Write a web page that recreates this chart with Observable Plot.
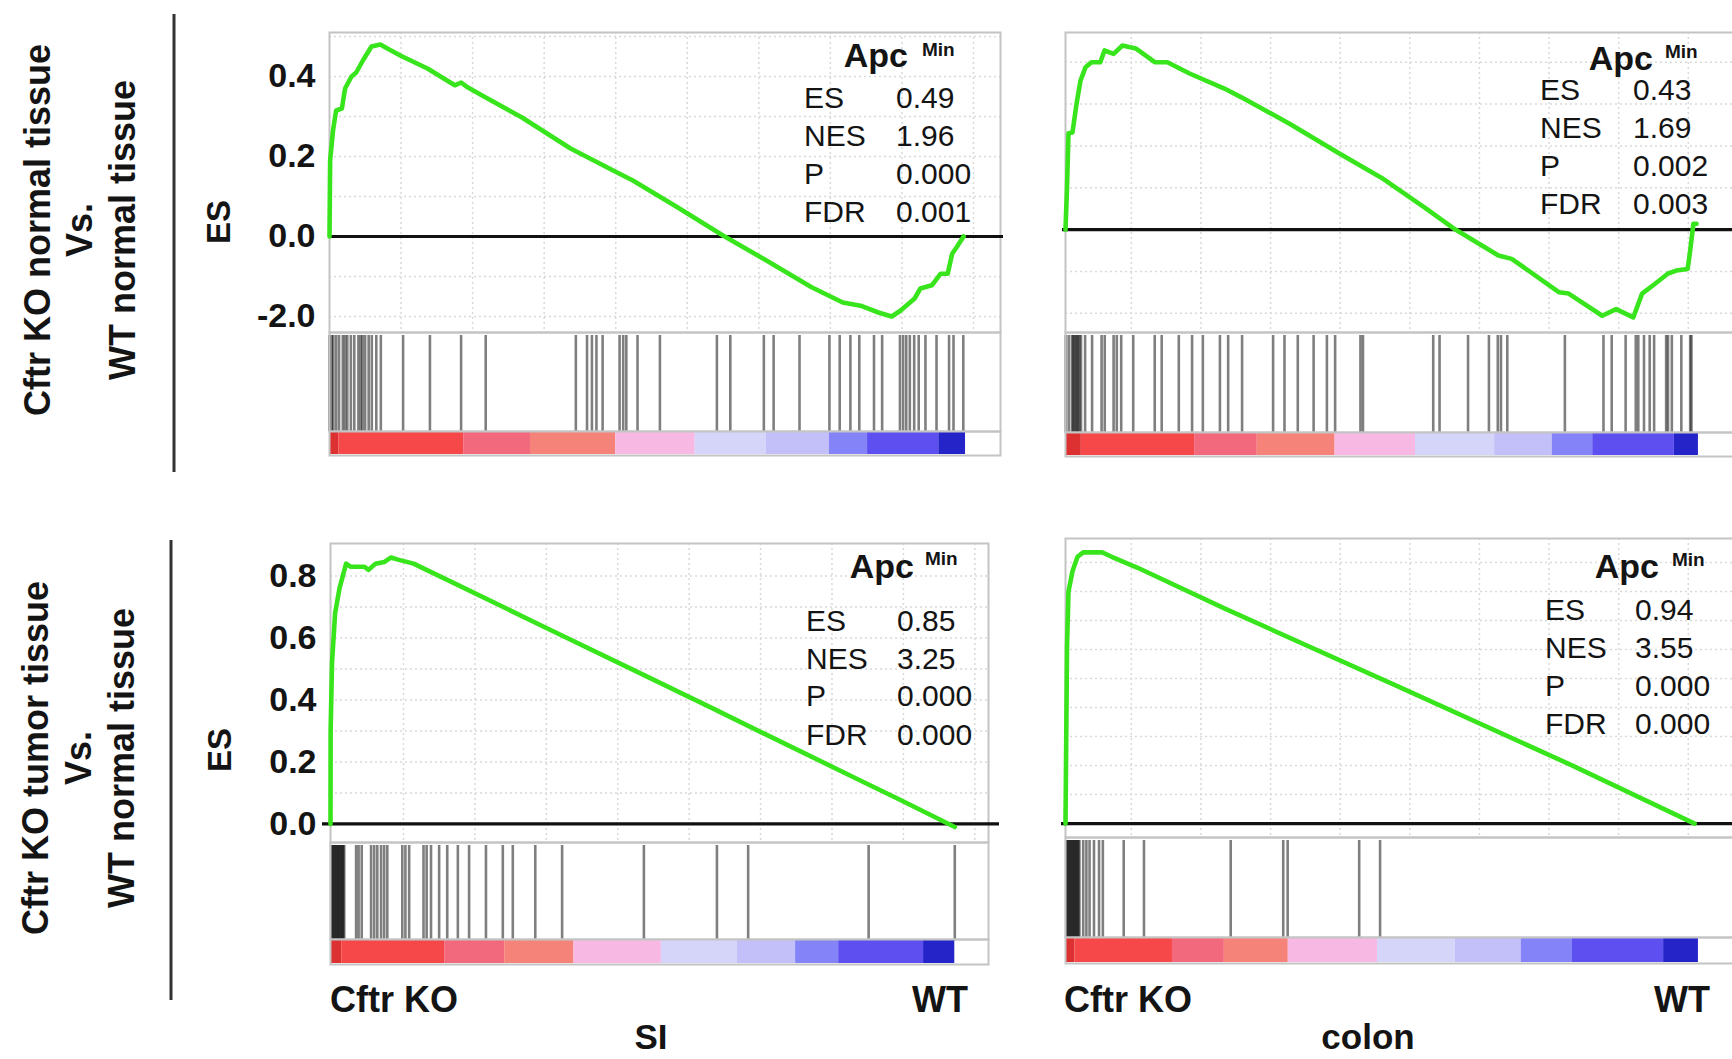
<!DOCTYPE html>
<html><head><meta charset="utf-8">
<script src="https://cdn.jsdelivr.net/npm/d3@7"></script>
<script src="https://cdn.jsdelivr.net/npm/@observablehq/plot@0.6"></script>
<style>
html,body{margin:0;padding:0;background:#fff;overflow:hidden;}
#root{position:relative;width:1732px;height:1059px;overflow:hidden;background:#fff;font-family:"Liberation Sans",Arial,sans-serif;}
</style></head><body><div id="root"></div>
<script>
// ---------- DATA (rank position in % of the ranked gene list, running ES) ----------
const curveTL = [[0,0],[0.1,0.19],[0.55,0.265],[1.04,0.315],[1.95,0.32],[2.45,0.37],[3.46,0.40],[4.2,0.41],[5.25,0.44],[6.6,0.475],[8.0,0.48],[9.1,0.47],[11.2,0.452],[15.4,0.42],[19.7,0.378],[20.7,0.385],[21.7,0.373],[24.5,0.348],[30.2,0.298],[37.9,0.22],[45.6,0.157],[47.7,0.14],[54.7,0.073],[61.8,0.003],[68.7,-0.06],[75.8,-0.127],[80.7,-0.165],[83.5,-0.173],[86.3,-0.19],[88.4,-0.20],[89.8,-0.185],[92.0,-0.155],[92.9,-0.13],[94.7,-0.122],[96.1,-0.093],[97.2,-0.093],[97.9,-0.043],[98.6,-0.027],[99.7,0]];
const curveTR = [[0,0],[0.24,0.10],[0.47,0.23],[1.1,0.232],[1.74,0.30],[2.37,0.356],[3.16,0.388],[4.1,0.40],[5.5,0.40],[6.16,0.428],[7.6,0.42],[9.0,0.44],[11.1,0.433],[14.1,0.40],[16.1,0.40],[19.6,0.373],[25.1,0.337],[27.8,0.316],[35.4,0.253],[43.0,0.184],[49.9,0.124],[56.7,0.053],[61.6,0],[68.4,-0.062],[70.5,-0.07],[78.0,-0.15],[79.5,-0.153],[84.8,-0.206],[87.0,-0.19],[89.7,-0.21],[91.1,-0.153],[93.1,-0.13],[95.2,-0.105],[96.5,-0.098],[98.3,-0.094],[98.7,-0.05],[99.2,0.014],[99.7,0.014]];
const curveBL = [[0,0],[0.02,0.30],[0.24,0.52],[0.74,0.68],[1.44,0.76],[2.5,0.84],[3.2,0.83],[5.4,0.83],[6.1,0.82],[7.2,0.84],[8.6,0.845],[9.7,0.86],[10.8,0.853],[13.3,0.84],[19.7,0.778],[34.0,0.638],[48.4,0.498],[61.3,0.372],[69.8,0.288],[85.6,0.133],[91.3,0.077],[100,-0.01]];
const curveBR = [[0,0],[0.24,0.61],[0.47,0.80],[1.1,0.87],[1.9,0.92],[2.8,0.935],[5.8,0.935],[7.3,0.92],[11.4,0.882],[25.1,0.742],[52.6,0.472],[80.1,0.2],[99.4,0]];

const hitsTL = [0.0,0.35,0.6,1.04,1.5,2.09,2.45,2.8,3.36,3.9,4.54,4.91,5.2,5.6,6.16,6.65,7.36,8.07,11.57,15.79,20.69,24.56,38.73,40.49,41.26,41.97,42.94,45.61,46.18,46.67,48.43,51.95,60.91,63.02,68.29,69.83,73.9,78.6,80.22,81.9,83.3,85.61,86.89,89.69,90.19,90.68,91.24,91.93,92.64,93.7,95.44,97.41,98.11,99.65];
const hitsTR = [0.03,0.5,1.0,1.2,1.4,1.6,1.8,2.0,2.2,2.45,3.1,4.2,5.7,6.2,7.6,8.1,8.8,10.7,14.1,15.2,17.9,20.0,21.7,24.4,25.7,27.9,32.8,34.6,36.7,39.2,41.3,42.6,46.6,47.0,58.1,59.1,63.6,66.9,68.3,68.8,69.8,78.9,85.0,86.3,88.5,90.1,90.5,91.4,92.3,93.0,94.9,95.2,95.8,97.3,98.7,98.9];
const hitsBL = [0.1,0.25,0.4,0.55,0.7,0.85,1.0,1.15,1.3,1.45,1.6,1.75,1.9,2.05,2.2,4.1,4.5,5.0,6.5,7.0,7.5,8.1,8.6,9.1,11.5,12.0,12.6,14.9,15.4,16.1,17.4,18.7,20.4,22.2,24.9,27.6,29.2,32.8,37.1,50.2,61.9,66.9,86.2,100.0];
const hitsBR = [0.1,0.25,0.4,0.55,0.7,0.85,1.0,1.15,1.3,1.45,1.6,1.75,1.9,2.05,2.2,2.8,3.3,3.8,4.5,5.3,5.9,9.2,12.4,26.1,34.4,35.1,46.4,49.7];

// ranked-list heat bar: segment boundaries (%) and colours
const barColors = ["#dd3030","#f64848","#f2687c","#f6837a","#f7b9e3","#d5d5fa","#c3bff8","#8484f8","#5d4ff0","#2424c8"];
const barTL = [0,1.5,21.1,31.6,45.0,57.5,68.7,78.6,84.6,95.8,100];
const barTR = [0,2.5,20.4,30.3,42.6,55.3,67.8,76.9,83.3,96.2,100];
const barBL = [0,1.8,18.3,27.9,39.0,53.0,65.2,74.5,81.4,95.0,100];
const barBR = [0,1.5,16.9,25.1,35.2,49.3,61.6,72.0,80.1,94.5,100];

// y tick labels (as printed in the figure)
const ticksTL = [0.4,0.2,0,-0.2];
const tickLabelsTL = ["0.4","0.2","0.0","-2.0"];
const ticksBL = [0.8,0.6,0.4,0.2,0];
const tickLabelsBL = ["0.8","0.6","0.4","0.2","0.0"];

// statistics
const statsTL = [["ES","0.49"],["NES","1.96"],["P","0.000"],["FDR","0.001"]];
const statsTR = [["ES","0.43"],["NES","1.69"],["P","0.002"],["FDR","0.003"]];
const statsBL = [["ES","0.85"],["NES","3.25"],["P","0.000"],["FDR","0.000"]];
const statsBR = [["ES","0.94"],["NES","3.55"],["P","0.000"],["FDR","0.000"]];

const rowLabelsTop = ["Cftr KO normal tissue","Vs.","WT normal tissue"];
const rowLabelsBottom = ["Cftr KO tumor tissue","Vs.","WT normal tissue"];
const groupLabels = ["Cftr KO","WT"];
const tissueLabels = ["SI","colon"];

// ---------- LAYOUT ----------
const root = document.getElementById("root");
const FONT = "'Liberation Sans', Arial, Helvetica, sans-serif";
function place(el, left, top){ el.style.position="absolute"; el.style.left=left+"px"; el.style.top=top+"px"; root.appendChild(el); }

const panels = [
  {left:329, top:32, frameW:671, esH:300, hitsH:99, barH:24, xMax:105.5, yDomain:[-0.24,0.51], gridStep:11.25, gridOff:0, curve:curveTL, hits:hitsTL, bars:barTL, ticks:ticksTL, tickLabels:tickLabelsTL, zl:0, zr:-3,
   stats:statsTL, s:{apcEnd:908, apcBase:67, minX:922, minBase:56, labX:804, valX:896, rows:[108,146,184,222]}},
  {left:1065, top:32, frameW:669, esH:300, hitsH:100, barH:24, xMax:105.7, yDomain:[-0.246,0.471], gridStep:11.0, gridOff:-0.6, curve:curveTR, hits:hitsTR, bars:barTR, ticks:null, zl:-3, zr:0,
   stats:statsTR, s:{apcEnd:1653, apcBase:70, minX:1665, minBase:58, labX:1540, valX:1633, rows:[100,138,176,214]}},
  {left:330, top:543, frameW:658, esH:299, hitsH:97, barH:25, xMax:105.4, yDomain:[-0.06,0.905], gridStep:11.44, gridOff:0.25, curve:curveBL, hits:hitsBL, bars:barBL, ticks:ticksBL, tickLabels:tickLabelsBL, zl:-8, zr:-11,
   stats:statsBL, s:{apcEnd:914, apcBase:578, minX:925, minBase:565, labX:806, valX:897, rows:[631,669,706,745]}},
  {left:1065, top:538, frameW:669, esH:299, hitsH:100, barH:26, xMax:105.7, yDomain:[-0.048,0.983], gridStep:11.0, gridOff:-0.6, curve:curveBR, hits:hitsBR, bars:barBR, ticks:null, zl:-4, zr:0,
   stats:statsBR, s:{apcEnd:1659, apcBase:578, minX:1672, minBase:566, labX:1545, valX:1635, rows:[620,658,696,734]}}
];

const mL = 120, mR = 14;
const baseStyle = {background:"transparent", fontFamily: FONT, color:"#141414", overflow:"visible"};

for (const p of panels) {
  const W = mL + p.frameW + mR;
  const gx = d3.range(1, 10).map(k => p.gridOff + k * p.gridStep).filter(v => v > 0 && v < p.xMax);
  const gy = d3.range(-4, 11).map(k => k / 10).filter(v => v !== 0 && v > p.yDomain[0] + 0.005 && v < p.yDomain[1] - 0.005);
  const marks = [
    Plot.ruleX(gx, {stroke:"#d9d9d9", strokeWidth:1.5, strokeDasharray:"2,3"}),
    Plot.ruleY(gy, {stroke:"#d9d9d9", strokeWidth:1.5, strokeDasharray:"2,3"}),
    Plot.frame({stroke:"#c4c4c4", strokeWidth:2}),
    Plot.ruleY([0], {stroke:"#111", strokeWidth:3.2, insetLeft:p.zl, insetRight:p.zr}),
    Plot.line(p.curve, {x:d=>d[0], y:d=>d[1], stroke:"#38e41b", strokeWidth:4.6, strokeLinejoin:"round"})
  ];
  if (p.ticks) {
    const lab = new Map(p.ticks.map((t,i)=>[t, p.tickLabels[i]]));
    marks.push(Plot.axisY(p.ticks, {tickSize:0, tickPadding:14, tickFormat:d=>lab.get(d), fontSize:34, fontWeight:"bold"}));
  }
  const es = Plot.plot({
    width: W, height: p.esH + 4, marginLeft: mL, marginRight: mR, marginTop: 2, marginBottom: 2,
    x: {domain:[0, p.xMax], axis:null},
    y: {domain:p.yDomain, axis:null},
    style: baseStyle,
    marks
  });
  place(es, p.left - mL, p.top - 2);

  const hp = Plot.plot({
    width: W, height: p.hitsH, marginLeft: mL, marginRight: mR, marginTop: 0, marginBottom: 0,
    x: {domain:[0, p.xMax], axis:null},
    style: baseStyle,
    marks: [
      Plot.ruleX(p.hits, {stroke:"#000", strokeOpacity:0.5, strokeWidth:2.6, insetTop:3}),
      Plot.frame({stroke:"#c4c4c4", strokeWidth:2})
    ]
  });
  place(hp, p.left - mL, p.top + p.esH);

  const segs = p.bars.slice(0, -1).map((b, i) => ({x1:b, x2:p.bars[i+1], c:barColors[i]}));
  const bp = Plot.plot({
    width: W, height: p.barH, marginLeft: mL, marginRight: mR, marginTop: 0, marginBottom: 0,
    x: {domain:[0, p.xMax], axis:null},
    color: {type:"identity"},
    style: baseStyle,
    marks: [
      Plot.barX(segs, {x1:"x1", x2:"x2", fill:"c", insetTop:1, insetBottom:1}),
      Plot.frame({stroke:"#c4c4c4", strokeWidth:2})
    ]
  });
  place(bp, p.left - mL, p.top + p.esH + p.hitsH);
}

// ---------- TEXT OVERLAY ----------
const ov = d3.create("svg").attr("width",1732).attr("height",1059)
  .style("font-family", FONT).style("pointer-events","none");
const g = ov.append("g").attr("fill","#141414");
function txt(s, x, y, size, bold, anchor){ g.append("text").attr("x",x).attr("y",y).attr("font-size",size).attr("font-weight",bold?"bold":"normal").attr("text-anchor",anchor||"start").text(s); }
function vtxt(s, bx, cy, size){ g.append("text").attr("transform",`translate(${bx},${cy}) rotate(-90)`).attr("text-anchor","middle").attr("font-size",size).attr("font-weight","bold").text(s); }

// stats blocks
for (const p of panels) {
  const s = p.s;
  txt("Apc", s.apcEnd, s.apcBase, 34, true, "end");
  txt("Min", s.minX, s.minBase, 19, true);
  p.stats.forEach((r, i) => { txt(r[0], s.labX, s.rows[i], 30, false); txt(r[1], s.valX, s.rows[i], 30, false); });
}
// row labels + dividers
[50, 92, 135].forEach((bx, i) => vtxt(rowLabelsTop[i], bx, 230, 36));
[48, 91, 134].forEach((bx, i) => vtxt(rowLabelsBottom[i], bx, 758, 36));
g.append("line").attr("x1",174).attr("x2",174).attr("y1",14).attr("y2",472).attr("stroke","#333").attr("stroke-width",3);
g.append("line").attr("x1",171).attr("x2",171).attr("y1",540).attr("y2",1000).attr("stroke","#333").attr("stroke-width",3);
// ES axis titles
vtxt("ES", 230, 222, 33);
vtxt("ES", 231, 750, 33);
// group labels
txt(groupLabels[0], 330, 1012, 36, true);
txt(groupLabels[1], 968, 1012, 36, true, "end");
txt(groupLabels[0], 1064, 1012, 36, true);
txt(groupLabels[1], 1710, 1012, 36, true, "end");
txt(tissueLabels[0], 651, 1049, 35, true, "middle");
txt(tissueLabels[1], 1368, 1049, 35, true, "middle");

place(ov.node(), 0, 0);
</script></body></html>
